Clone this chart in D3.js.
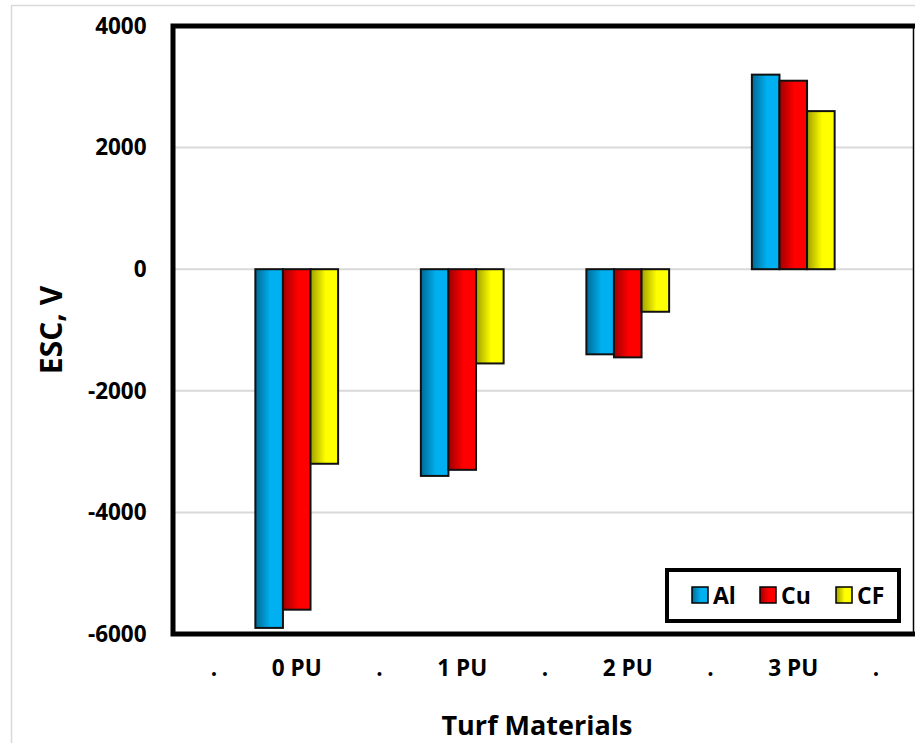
<!DOCTYPE html>
<html lang="en">
<head>
    <meta charset="UTF-8">
    <title>ESC by turf material</title>
    <style>
        body { margin: 0; background: #fff; }
        text { font-family: "Open Sans", "Liberation Sans", sans-serif; font-weight: bold; fill: #000; }
    </style>
</head>
<body>
<div id="chart"></div>

<script src="https://d3js.org/d3.v7.min.js"></script>

<script>
    // categories along x (the "." slots are empty spacer categories)
    let categories = [".", "0 PU", ".", "1 PU", ".", "2 PU", ".", "3 PU", "."];
    let seriesNames = ["Al", "Cu", "CF"];
    let alValues = [null, -5900, null, -3400, null, -1400, null, 3200, null];
    let cuValues = [null, -5600, null, -3300, null, -1450, null, 3100, null];
    let cfValues = [null, -3200, null, -1550, null, -700, null, 2600, null];
    let yTicks = [-6000, -4000, -2000, 0, 2000, 4000];

    let colors = {
        Al: {dark: "#006a96", light: "#00b0f0"},
        Cu: {dark: "#a00000", light: "#ff0000"},
        CF: {dark: "#a0a000", light: "#ffff00"}
    };

    let vp = {width: 915, height: 743};
    let plot = {left: 172.6, right: 917.4, top: 26, bottom: 634};

    let svg = d3.select("#chart").append("svg")
        .attr("width", vp.width)
        .attr("height", vp.height);

    // gradients for the bars
    let defs = svg.append("defs");
    seriesNames.forEach(function (s) {
        let g = defs.append("linearGradient").attr("id", "grad-" + s)
            .attr("x1", "0%").attr("x2", "100%").attr("y1", "0%").attr("y2", "0%");
        g.append("stop").attr("offset", "0%").attr("stop-color", colors[s].dark);
        g.append("stop").attr("offset", "55%").attr("stop-color", colors[s].light);
        g.append("stop").attr("offset", "100%").attr("stop-color", colors[s].light);
    });

    // outer chart border
    svg.append("rect")
        .attr("x", 11.5).attr("y", 5.5)
        .attr("width", 1000).attr("height", 1000)
        .attr("fill", "none").attr("stroke", "#d9d9d9").attr("stroke-width", 1.5);

    let x = d3.scaleBand().domain(d3.range(categories.length)).range([plot.left, plot.right]).padding(0);
    let y = d3.scaleLinear().domain([-6000, 4000]).range([plot.bottom, plot.top]);

    // gridlines
    svg.append("g").selectAll("line")
        .data(yTicks.filter(function (d) { return d > -6000 && d < 4000; }))
        .enter().append("line")
        .attr("x1", plot.left).attr("x2", 913)
        .attr("y1", function (d) { return y(d); })
        .attr("y2", function (d) { return y(d); })
        .attr("stroke", "#d9d9d9").attr("stroke-width", 2);

    // bars
    let seriesData = [alValues, cuValues, cfValues];
    let barW = x.bandwidth() / 3;
    seriesNames.forEach(function (s, si) {
        let pts = seriesData[si].map(function (v, i) { return {i: i, v: v}; })
            .filter(function (d) { return d.v !== null; });
        svg.append("g").selectAll("rect")
            .data(pts).enter()
            .append("rect")
            .attr("x", function (d) { return x(d.i) + si * barW; })
            .attr("y", function (d) { return y(Math.max(0, d.v)); })
            .attr("width", barW)
            .attr("height", function (d) { return Math.abs(y(d.v) - y(0)); })
            .attr("fill", "url(#grad-" + s + ")")
            .attr("stroke", "#111").attr("stroke-width", 2);
    });

    // plot border
    svg.append("line").attr("x1", 913.5).attr("x2", 913.5).attr("y1", plot.top).attr("y2", plot.bottom)
        .attr("stroke", "#000").attr("stroke-width", 1.5);
    svg.append("path")
        .attr("d", "M916," + plot.top + "H" + 173 + "V" + plot.bottom + "H916")
        .attr("fill", "none").attr("stroke", "#000").attr("stroke-width", 5);

    // Y axis labels
    let yAxis = svg.append("g")
        .attr("transform", "translate(" + plot.left + ",0)")
        .call(d3.axisLeft(y).tickValues(yTicks).tickSize(0).tickPadding(26).tickFormat(String));
    yAxis.select(".domain").remove();
    yAxis.selectAll("text").style("font-size", "22.5px").attr("font-family", null);

    // X axis labels
    let xAxis = svg.append("g")
        .attr("transform", "translate(0," + plot.bottom + ")")
        .call(d3.axisBottom(x).tickSize(0).tickPadding(26).tickFormat(function (i) { return categories[i]; }));
    xAxis.select(".domain").remove();
    xAxis.selectAll("text").style("font-size", "22.5px").attr("font-family", null);

    // axis titles
    svg.append("text")
        .attr("x", 537).attr("y", 735)
        .attr("text-anchor", "middle")
        .style("font-size", "27px")
        .text("Turf Materials");
    svg.append("text")
        .attr("transform", "translate(62,330) rotate(-90)")
        .attr("text-anchor", "middle")
        .style("font-size", "30px")
        .text("ESC, V");

    // legend
    let legend = svg.append("g");
    legend.append("rect")
        .attr("x", 667).attr("y", 570).attr("width", 232).attr("height", 51)
        .attr("fill", "#fff").attr("stroke", "#000").attr("stroke-width", 4);
    let legendX = [692, 760, 836];
    seriesNames.forEach(function (s, si) {
        legend.append("rect")
            .attr("x", legendX[si]).attr("y", 587).attr("width", 16).attr("height", 16)
            .attr("fill", "url(#grad-" + s + ")").attr("stroke", "#000").attr("stroke-width", 1.5);
        legend.append("text")
            .attr("x", legendX[si] + 21).attr("y", 595)
            .attr("dominant-baseline", "central")
            .style("font-size", "23px")
            .text(s);
    });
</script>

</body>
</html>
